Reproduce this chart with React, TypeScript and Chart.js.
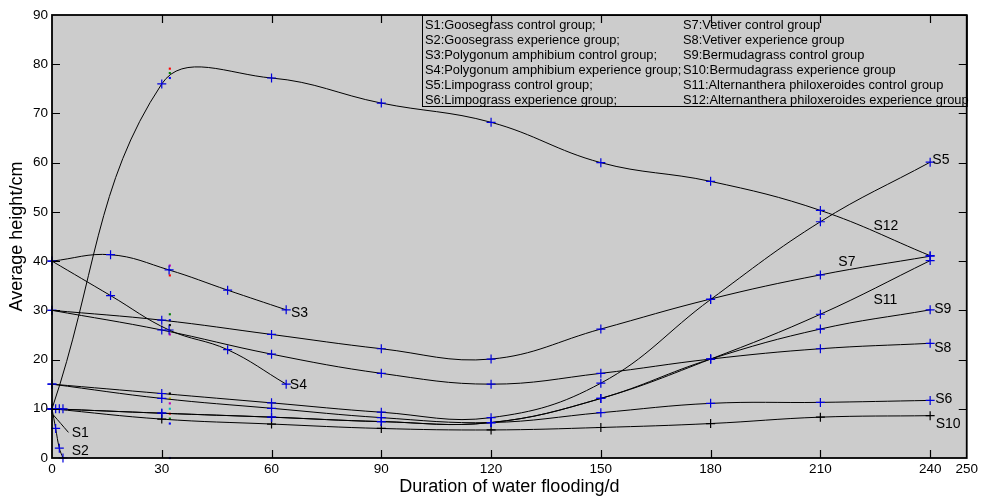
import React, { useEffect, useRef } from "react";
import { Chart, registerables } from "chart.js";

Chart.register(...registerables);

// ---------- data ----------
const days = [0, 30, 60, 90, 120, 150, 180, 210, 240];
const polyDays = [0, 16, 32, 48, 64];
const gooseDays = [0, 1, 2, 3];

const s1Values = [10, 10, 10, 10];
const s1TraceDays = [0.3, 4.5];
const s1TraceValues = [8.8, 5.2];
const s2Values = [10, 6, 2, 0];
const s3Values = [40, 41.3, 38.2, 34.1, 30.1];
const s4Values = [40, 33, 26, 22, 15];
const s5Values = [15, 13.1, 11.2, 9.3, 8.2, 15.2, 32.2, 48, 60.1];
const s6Values = [15, 12.1, 10.1, 8.2, 7.2, 9.2, 11.1, 11.3, 11.7];
const s7Values = [30, 28, 25.1, 22.2, 20.1, 26.2, 32.3, 37.2, 41];
const s8Values = [30, 26, 21.1, 17.2, 15, 17.2, 20.1, 22.2, 23.3];
const s9Values = [10, 9.1, 8.3, 7.4, 7.2, 12.1, 20.1, 26.2, 30.1];
const s10Values = [10, 7.9, 6.9, 6.0, 5.7, 6.2, 7.0, 8.3, 8.6];
const s11Values = [10, 9.1, 8.3, 7.4, 7.2, 12.1, 20.1, 29.2, 40.1];
const s12Values = [10, 76, 77.2, 72.1, 68.2, 60, 56.2, 50.3, 41.1];

const dotDay = 32.2;
const dotValues = [79.1, 78.2, 77.2, 39.1, 38.2, 37.1, 29.2, 28, 27, 26, 25.1, 13.1, 12.1, 11.1, 10, 9, 8, 7, 0];
const dotColors = [
  "#ff0000", "#008000", "#0000ff", "#bf00bf", "#00bfbf", "#ff0000", "#008000", "#0000ff", "#000000",
  "#bfbf00", "#bf00bf", "#000000", "#bfbf00", "#bf00bf", "#00bfbf", "#ff0000", "#008000", "#0000ff", "#0000ff",
];

const xTicks = [0, 30, 60, 90, 120, 150, 180, 210, 240, 250];
const yTicks = [0, 10, 20, 30, 40, 50, 60, 70, 80, 90];

const seriesNames = ["S1", "S2", "S3", "S4", "S5", "S12", "S7", "S11", "S9", "S8", "S6", "S10"];
const seriesLabelDays = [5.4, 5.4, 65.3, 65, 240.6, 224.5, 214.9, 224.5, 241.1, 241.1, 241.4, 241.5];
const seriesLabelValues = [5.0, 1.3, 29.4, 14.8, 60.6, 47.2, 39.7, 32.0, 30.2, 22.3, 11.9, 6.9];

const legendLeft = [
  "S1:Goosegrass control group;",
  "S2:Goosegrass experience group;",
  "S3:Polygonum amphibium control group;",
  "S4:Polygonum amphibium experience group;",
  "S5:Limpograss control group;",
  "S6:Limpograss experience group;",
];
const legendRight = [
  "S7:Vetiver control group",
  "S8:Vetiver experience group",
  "S9:Bermudagrass control group",
  "S10:Bermudagrass experience group",
  "S11:Alternanthera philoxeroides control group",
  "S12:Alternanthera philoxeroides experience group",
];

const xTitle = "Duration of water flooding/d";
const yTitle = "Average height/cm";

const FONT = "'Liberation Sans', Arial, sans-serif";
const MARK = "#0000dd";

function pts(xs: number[], ys: number[]) {
  return xs.map((x, i) => ({ x, y: ys[i] }));
}

function curve(label: string, xs: number[], ys: number[], marker = MARK, showMarkers = true): any {
  return {
    label,
    data: pts(xs, ys),
    borderColor: "#000",
    borderWidth: 1,
    tension: 0.4,
    fill: false,
    clip: false,
    pointStyle: "cross",
    pointRadius: showMarkers ? 4.5 : 0,
    pointBorderColor: marker,
    pointBackgroundColor: marker,
    pointBorderWidth: 1.2,
  };
}

const decorPlugin = {
  id: "decor",
  beforeDraw(chart: any) {
    const { ctx, chartArea: a } = chart;
    ctx.save();
    ctx.fillStyle = "#ffffff";
    ctx.fillRect(0, 0, chart.width, chart.height);
    ctx.fillStyle = "#cccccc";
    ctx.fillRect(a.left, a.top, a.right - a.left, a.bottom - a.top);
    ctx.restore();
  },
  afterDatasetsDraw(chart: any) {
    const { ctx, chartArea: a, scales } = chart;
    const xs = scales.x;
    const ys = scales.y;
    ctx.save();

    // series labels
    ctx.fillStyle = "#000";
    ctx.font = `14px ${FONT}`;
    ctx.textAlign = "left";
    ctx.textBaseline = "middle";
    seriesNames.forEach((n, i) => {
      ctx.fillText(n, xs.getPixelForValue(seriesLabelDays[i]), ys.getPixelForValue(seriesLabelValues[i]));
    });

    // legend box
    const lx = a.left + 370;
    const ly = a.top;
    const lw = a.right - lx;
    const lh = 91;
    ctx.fillStyle = "#cccccc";
    ctx.fillRect(lx, ly, lw, lh);
    ctx.strokeStyle = "#000";
    ctx.lineWidth = 1;
    ctx.strokeRect(lx + 0.5, ly + 0.5, lw, lh);
    ctx.fillStyle = "#000";
    ctx.font = `12.85px ${FONT}`;
    ctx.textBaseline = "middle";
    legendLeft.forEach((t, i) => ctx.fillText(t, lx + 3, ly + 10 + i * 15));
    legendRight.forEach((t, i) => ctx.fillText(t, lx + 261, ly + 10 + i * 15));

    // inward tick marks
    ctx.strokeStyle = "#000";
    ctx.lineWidth = 1.2;
    ctx.beginPath();
    xTicks.forEach((v) => {
      if (v === 0 || v === 250) return;
      const px = Math.round(xs.getPixelForValue(v)) + 0.5;
      ctx.moveTo(px, a.bottom);
      ctx.lineTo(px, a.bottom - 8);
      ctx.moveTo(px, a.top);
      ctx.lineTo(px, a.top + 8);
    });
    yTicks.forEach((v) => {
      if (v === 0 || v === 90) return;
      const py = Math.round(ys.getPixelForValue(v)) + 0.5;
      ctx.moveTo(a.left, py);
      ctx.lineTo(a.left + 8, py);
      ctx.moveTo(a.right, py);
      ctx.lineTo(a.right - 8, py);
    });
    ctx.stroke();

    // frame
    ctx.lineWidth = 1.8;
    ctx.strokeRect(a.left, a.top, a.right - a.left, a.bottom - a.top);

    // axis titles
    ctx.font = `18px ${FONT}`;
    ctx.textAlign = "center";
    ctx.textBaseline = "middle";
    ctx.fillText(xTitle, (a.left + a.right) / 2, 487);
    ctx.translate(17, (a.top + a.bottom) / 2);
    ctx.rotate(-Math.PI / 2);
    ctx.fillText(yTitle, 0, 0);
    ctx.restore();
  },
};

export default function App() {
  const ref = useRef<HTMLCanvasElement>(null);
  useEffect(() => {
    if (!ref.current) return;
    const datasets: any[] = [
      { ...curve("S1", gooseDays, s1Values), showLine: false },
      curve("S1 trace", s1TraceDays, s1TraceValues, MARK, false),
      curve("S2", gooseDays, s2Values),
      curve("S3", polyDays, s3Values),
      curve("S4", polyDays, s4Values),
      curve("S5", days, s5Values),
      curve("S6", days, s6Values),
      curve("S7", days, s7Values),
      curve("S8", days, s8Values),
      curve("S9", days, s9Values),
      curve("S10", days, s10Values, "#000"),
      curve("S11", days, s11Values),
      curve("S12", days, s12Values),
      {
        label: "dots",
        data: dotValues.map((y) => ({ x: dotDay, y })),
        showLine: false,
        clip: false,
        pointStyle: "rect",
        pointRadius: 1.5,
        pointBorderWidth: 0,
        pointBackgroundColor: dotColors,
        pointBorderColor: dotColors,
      },
    ];
    const chart = new Chart(ref.current, {
      type: "line",
      data: { datasets },
      plugins: [decorPlugin],
      options: {
        animation: false,
        responsive: false,
        devicePixelRatio: 1,
        layout: { padding: { top: 15, right: 13, left: 0, bottom: 0 } },
        plugins: { legend: { display: false }, tooltip: { enabled: false } },
        scales: {
          x: {
            type: "linear",
            min: 0,
            max: 250,
            afterBuildTicks: (s: any) => {
              s.ticks = xTicks.map((v) => ({ value: v }));
            },
            afterFit: (s: any) => {
              s.height = 39;
            },
            grid: { display: false, drawTicks: false },
            border: { display: false },
            ticks: {
              autoSkip: false,
              maxRotation: 0,
              padding: 3,
              color: "#000",
              font: { family: FONT, size: 13.5 },
            },
          },
          y: {
            type: "linear",
            min: 0,
            max: 90,
            afterBuildTicks: (s: any) => {
              s.ticks = yTicks.map((v) => ({ value: v }));
            },
            afterFit: (s: any) => {
              s.width = 52;
            },
            grid: { display: false, drawTicks: false },
            border: { display: false },
            ticks: {
              padding: 4,
              color: "#000",
              font: { family: FONT, size: 13.5 },
            },
          },
        },
      } as any,
    });
    return () => chart.destroy();
  }, []);
  return (
    <div style={{ position: "absolute", left: 0, top: 0, width: 981, height: 497 }}>
      <canvas ref={ref} width={981} height={497} style={{ display: "block", width: 981, height: 497 }} />
    </div>
  );
}
